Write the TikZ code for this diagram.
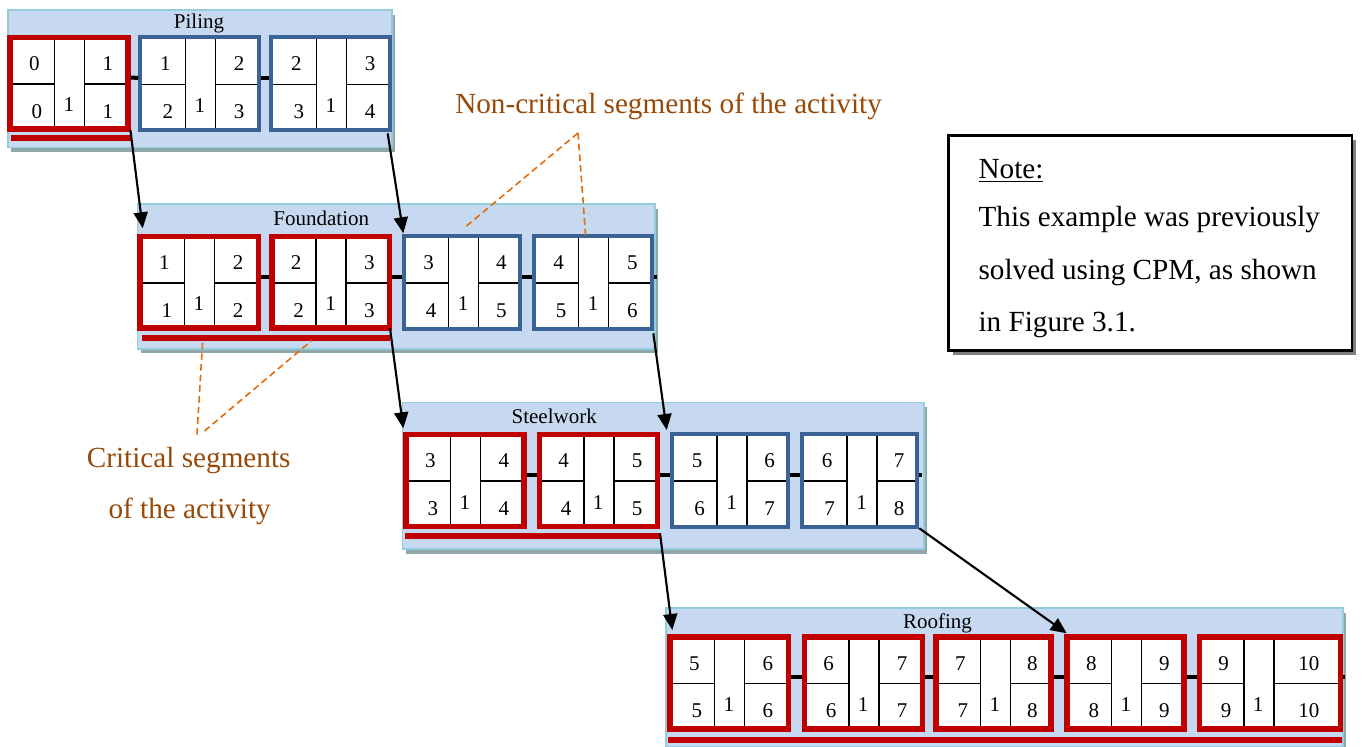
\documentclass[tikz,border=0pt]{standalone}
\usepackage{fontspec}
\setmainfont{Liberation Serif}
\usetikzlibrary{arrows.meta,shadows,calc}

\definecolor{bandfill}{HTML}{C6D9F1}
\definecolor{bandedge}{HTML}{93CDDD}
\definecolor{bandshade}{HTML}{8FA6AA}
\definecolor{critred}{HTML}{C00000}
\definecolor{ncblue}{HTML}{3A6295}
\definecolor{hintorange}{HTML}{E46C0A}
\definecolor{calloutbrown}{HTML}{984807}
\definecolor{noteshade}{HTML}{7F7F7F}

% one drawing unit = one pixel of the 1362 x 746 canvas
\def\px{0.75pt}

\tikzset{
  crit/.code={\def\bw{5.5}\def\bwl{4.125pt}\def\bcol{critred}},
  noncrit/.code={\def\bw{4}\def\bwl{3pt}\def\bcol{ncblue}},
  boxbody/.style={fill=white, inner sep=0pt, outer sep=0pt, minimum height=97.4*\px},
  cellrule/.style={black, line width=1.2pt},
  num/.style={inner sep=0pt, anchor=base, font=\fontsize{15.75}{18}\selectfont},
  band/.style={fill=bandfill, draw=bandedge, line width=1.2pt, inner sep=0pt,
    drop shadow={shadow xshift=2.3pt, shadow yshift=-3.4pt, fill=bandshade, opacity=1}},
  stagelabel/.style={inner sep=0pt, anchor=base, font=\fontsize{15.75}{18}\selectfont},
  critbar/.style={fill=critred, inner sep=0pt, outer sep=0pt, minimum height=6*\px, anchor=north west},
  link/.style={black, line width=3pt},
  arr/.style={black, line width=1.6pt, -{Triangle[length=12pt, width=10.5pt]}},
  hint/.style={hintorange, line width=1.2pt, dash pattern=on 5pt off 3pt},
  callout/.style={inner sep=0pt, text=calloutbrown, font=\fontsize{21.9}{26}\selectfont},
  notebox/.style={fill=white, draw=black, line width=1.9pt, inner sep=0pt,
    drop shadow={shadow xshift=3pt, shadow yshift=-3.75pt, fill=noteshade, opacity=1}},
  notetext/.style={inner sep=0pt, anchor=base west, font=\fontsize{21.9}{26}\selectfont},
}

% activity segment: name, left, top, width, kind, ES, EF, LS, LF
\newcommand\actbox[9]{%
  \tikzset{#5}%
  \node[boxbody, minimum width=#4*\px, anchor=north west] (#1) at (#2,#3) {};
  \draw[cellrule] (#2+47,#3+\bw) -- (#2+47,#3+97.4-\bw)
                  (#2+77,#3+\bw) -- (#2+77,#3+97.4-\bw)
                  (#2+\bw,#3+49.3) -- (#2+47,#3+49.3)
                  (#2+77,#3+49.3) -- (#2+#4-\bw,#3+49.3);
  \draw[line width=\bwl, draw=\bcol] (#2+\bw/2,#3+\bw/2) rectangle (#2+#4-\bw/2,#3+97.4-\bw/2);
  \node[num] (#1-es) at (#2+27,#3+35.7) {#6};
  \node[num] (#1-ef) at (#2+38.5+#4/2-\bw/2+3,#3+35.7) {#7};
  \node[num] (#1-ls) at (#2+29.5,#3+83.5) {#8};
  \node[num] (#1-lf) at (#2+38.5+#4/2-\bw/2+3,#3+83.5) {#9};
  \node[num] (#1-d) at (#2+61.5,#3+77.4) {1};
}

\begin{document}
\begin{tikzpicture}[x=0.75pt, y=-0.75pt]
\useasboundingbox (0,0) rectangle (1362,746);

% ---------- stage bands ----------
\node[band, minimum width=(392.7-7.3-1.6)*\px, minimum height=(148.3-9.3-1.6)*\px, anchor=north west] (piling) at (7.3,9.3) {};
\node[band, minimum width=(656-136.7-1.6)*\px, minimum height=(349.5-203.3-1.6)*\px, anchor=north west] (foundation) at (136.7,203.3) {};
\node[band, minimum width=(925-401.7-1.6)*\px, minimum height=(550-401.7-1.6)*\px, anchor=north west] (steelwork) at (401.7,401.7) {};
\node[band, minimum width=(1344-665-1.6)*\px, minimum height=(748-607.3-1.6)*\px, anchor=north west] (roofing) at (665,607.3) {};

\node[stagelabel] (pilinglbl) at (199,28.3) {Piling};
\node[stagelabel] (foundationlbl) at (321.3,225) {Foundation};
\node[stagelabel] (steelworklbl) at (554.2,423.3) {Steelwork};
\node[stagelabel] (roofinglbl) at (937.5,628) {Roofing};

% ---------- Piling ----------
\actbox{p1}{7.3}{34.5}{123.4}{crit}{0}{1}{0}{1}
\actbox{p2}{138.3}{35}{122.4}{noncrit}{1}{2}{2}{3}
\actbox{p3}{269.3}{35}{122.4}{noncrit}{2}{3}{3}{4}
\node[critbar, minimum width=119.7*\px] (pbar) at (11,135) {};

% ---------- Foundation ----------
\actbox{f1}{137.3}{233.5}{124}{crit}{1}{2}{1}{2}
\actbox{f2}{269}{233.5}{123}{crit}{2}{3}{2}{3}
\actbox{f3}{401.5}{233.5}{120.5}{noncrit}{3}{4}{4}{5}
\actbox{f4}{531.5}{233.5}{122.5}{noncrit}{4}{5}{5}{6}
\node[critbar, minimum width=248.3*\px] (fbar) at (141.7,334.5) {};

% ---------- Steelwork ----------
\actbox{s1}{403.3}{431.7}{123.4}{crit}{3}{4}{3}{4}
\actbox{s2}{536.7}{431.7}{123.3}{crit}{4}{5}{4}{5}
\actbox{s3}{670}{431.7}{120}{noncrit}{5}{6}{6}{7}
\actbox{s4}{800}{431.7}{119.3}{noncrit}{6}{7}{7}{8}
\node[critbar, minimum width=255*\px] (sbar) at (405,533.3) {};

% ---------- Roofing ----------
\actbox{r1}{667.3}{634.3}{123.7}{crit}{5}{6}{5}{6}
\actbox{r2}{801.7}{634.3}{123.3}{crit}{6}{7}{6}{7}
\actbox{r3}{933.3}{634.3}{120.5}{crit}{7}{8}{7}{8}
\actbox{r4}{1064.3}{634.3}{122.4}{crit}{8}{9}{8}{9}
\actbox{r5}{1196.7}{634.3}{146.6}{crit}{9}{10}{9}{10}
\node[critbar, minimum width=674*\px] (rbar) at (668,736.7) {};

% ---------- links between consecutive segments ----------
\foreach \a/\b in {p1/p2, p2/p3, f1/f2, f2/f3, f3/f4, s1/s2, s2/s3, s3/s4, r1/r2, r2/r3, r3/r4, r4/r5}
  \draw[link] ($(\a.east)+(0,-5.7)$) -- ($(\b.west)+(0,-5.7)$);
\coordinate (fend) at ($(f4.east)+(2.5,-5.7)$);
\coordinate (send) at ($(s4.east)+(3,-5.7)$);
\coordinate (rend) at ($(r5.east)+(2,-5.7)$);
\draw[link] ($(f4.east)+(0,-5.7)$) -- (fend);
\draw[link] ($(s4.east)+(0,-5.7)$) -- (send);
\draw[link] ($(r5.east)+(0,-5.7)$) -- (rend);

% ---------- precedence arrows between stages ----------
\draw[arr] ($(p1.south east)+(-0.3,-2)$) -- ($(f1.north west)+(5.4,-5.2)$);
\draw[arr] ($(p3.south east)+(-4,1)$) -- ($(f3.north west)+(1.8,-0.2)$);
\draw[arr] ($(f2.south east)+(-2,-2.6)$) -- ($(s1.north west)+(0,-3.4)$);
\draw[arr] ($(f4.south east)+(-0.7,2.4)$) -- ($(s3.north west)+(-3.3,-1.7)$);
\draw[arr] ($(s2.south east)+(0,4.2)$) -- ($(r1.north west)+(5,-4.3)$);
\draw[arr] ($(s4.south east)+(0,-0.8)$) -- ($(r4.north west)+(2.4,-1)$);

% ---------- callouts ----------
\node[callout, anchor=base west] (nclbl) at (455,113.3) {Non-critical segments of the activity};
\coordinate (ncapex) at (578,133);
\draw[hint] (ncapex) -- ($(f3.north west)+(64.2,-6.8)$);
\draw[hint] (ncapex) -- ($(f4.north west)+(54.2,3.2)$);

\node[callout, anchor=base] (crlbl1) at (188.7,467.7) {Critical segments};
\node[callout, anchor=base] (crlbl2) at (189.7,518.3) {of the activity};
\coordinate (crlow1) at (197,434.5);
\coordinate (crlow2) at (204.5,431);
\draw[hint] (crlow1) -- ($(fbar.south west)+(61,0)$);
\draw[hint] (crlow2) -- ($(fbar.south west)+(170,0)$);

% ---------- note ----------
\node[notebox, minimum width=(1353.3-947.3-2.5)*\px, minimum height=(351.7-134-2.5)*\px, anchor=north west] (note) at (947.3,134) {};
\node[notetext] (note1) at (978.3,178.7) {\underline{Note:}};
\node[notetext] (note2) at (978.3,226.7) {This example was previously};
\node[notetext] (note3) at (978.3,279.3) {solved using CPM, as shown};
\node[notetext] (note4) at (978.3,331) {in Figure 3.1.};
\end{tikzpicture}
\end{document}
